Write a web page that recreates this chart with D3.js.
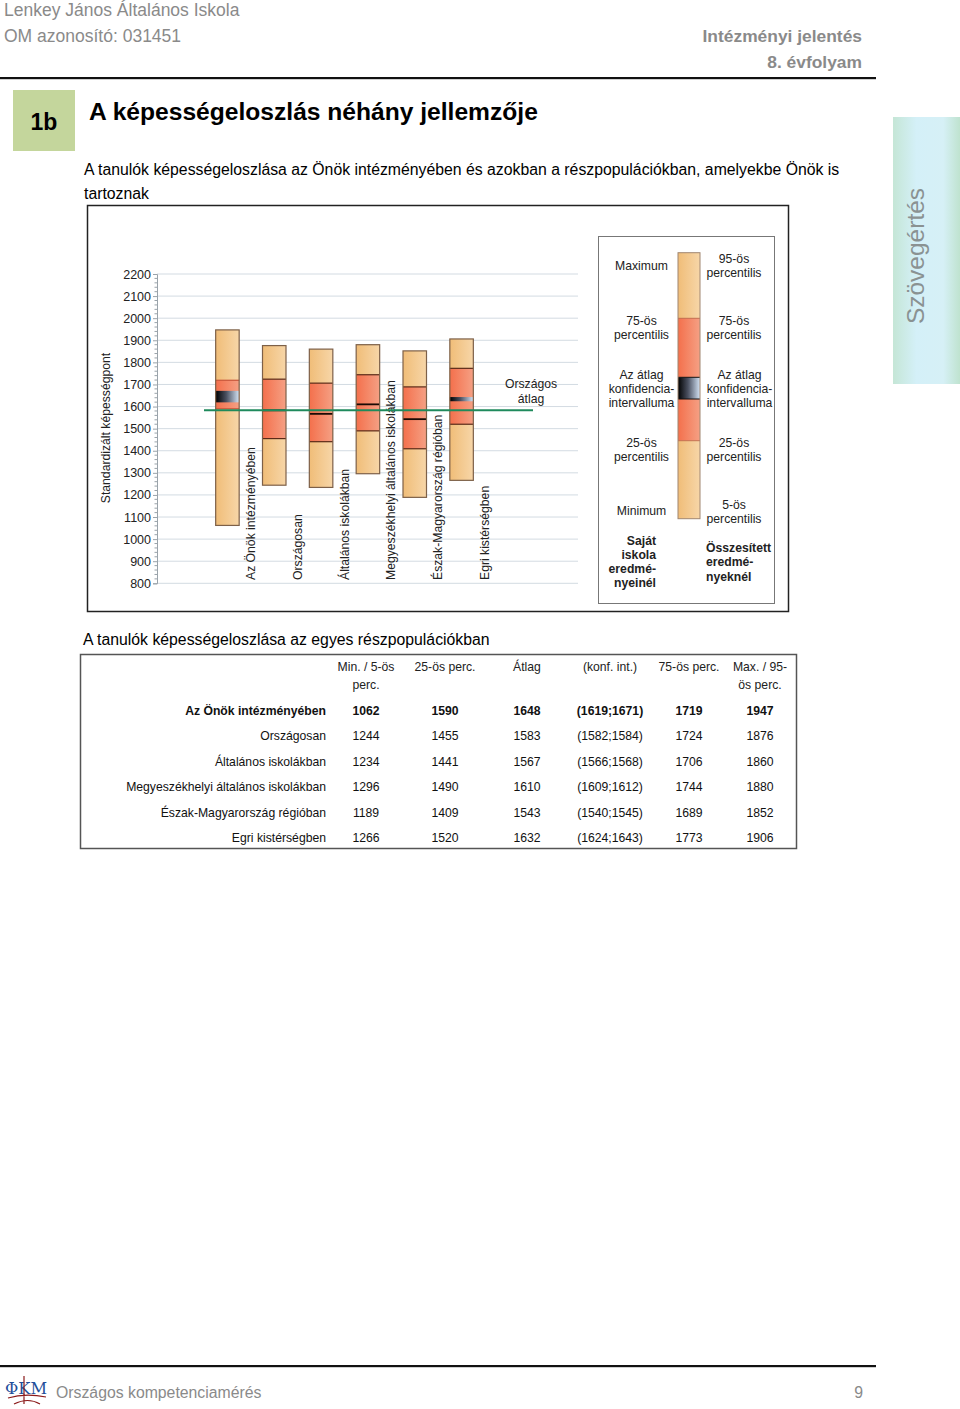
<!DOCTYPE html>
<html><head><meta charset="utf-8">
<script src="https://cdn.jsdelivr.net/npm/d3@7"></script>
<style>
html,body{margin:0;padding:0;background:#fff;}
svg{display:block;font-family:"Liberation Sans",Arial,sans-serif;}
</style></head>
<body>
<svg id="page" width="960" height="1409"></svg>
<script>
// ---- data ----
const categories = ["Az Önök intézményében","Országosan","Általános iskolákban","Megyeszékhelyi általános iskolákban","Észak-Magyarország régióban","Egri kistérségben"];
const min5   = [1062,1244,1234,1296,1189,1266];
const p25    = [1590,1455,1441,1490,1409,1520];
const mean   = [1648,1583,1567,1610,1543,1632];
const ciLow  = [1619,1582,1566,1609,1540,1624];
const ciHigh = [1671,1584,1568,1612,1545,1643];
const p75    = [1719,1724,1706,1744,1689,1773];
const max95  = [1947,1876,1860,1880,1852,1906];
const nationalMean = 1583;
const yTicks = [800,900,1000,1100,1200,1300,1400,1500,1600,1700,1800,1900,2000,2100,2200];
const tableHeaders = [["Min. / 5-ös","perc."],["25-ös perc."],["Átlag"],["(konf. int.)"],["75-ös perc."],["Max. / 95-","ös perc."]];

const svg = d3.select("#page");
const defs = svg.append("defs");
function lg(id, stops, x2=1, y2=0){
  const g = defs.append("linearGradient").attr("id",id).attr("x1",0).attr("y1",0).attr("x2",x2).attr("y2",y2);
  stops.forEach(s=>g.append("stop").attr("offset",s[0]).attr("stop-color",s[1]));
}
lg("gLight",[[0,"#f0bd78"],[1,"#f7d6a8"]]);
lg("gRed",[[0,"#f4704c"],[1,"#f5a084"]]);
lg("gCI",[[0,"#000000"],[0.45,"#4a5060"],[1,"#d4e4f6"]]);
lg("gTab",[[0,"#c5e6d6"],[0.35,"#d4f0f8"],[0.75,"#d6f0f6"],[1,"#bfe3cf"]]);

// ---- header ----
const gray = "#8a8a8a";
svg.append("text").attr("x",4).attr("y",16).attr("font-size",17.5).attr("fill",gray).text("Lenkey János Általános Iskola");
svg.append("text").attr("x",4).attr("y",42).attr("font-size",17.5).attr("fill",gray).text("OM azonosító: 031451");
svg.append("text").attr("x",862).attr("y",42).attr("font-size",17.4).attr("font-weight","bold").attr("fill",gray).attr("text-anchor","end").text("Intézményi jelentés");
svg.append("text").attr("x",862).attr("y",68).attr("font-size",17.4).attr("font-weight","bold").attr("fill",gray).attr("text-anchor","end").text("8. évfolyam");
svg.append("rect").attr("x",0).attr("y",77).attr("width",876).attr("height",2.2).attr("fill","#111");

svg.append("rect").attr("x",13).attr("y",90).attr("width",62).attr("height",61).attr("fill","#c4d69c");
svg.append("text").attr("x",44).attr("y",130).attr("font-size",23).attr("font-weight","bold").attr("text-anchor","middle").text("1b");
svg.append("text").attr("x",89).attr("y",120).attr("font-size",24.6).attr("font-weight","bold").text("A képességeloszlás néhány jellemzője");
svg.append("text").attr("x",84).attr("y",175).attr("font-size",15.8).text("A tanulók képességeloszlása az Önök intézményében és azokban a részpopulációkban, amelyekbe Önök is");
svg.append("text").attr("x",84).attr("y",199).attr("font-size",15.8).text("tartoznak");

// side tab
svg.append("rect").attr("x",893).attr("y",117).attr("width",67).attr("height",267).attr("fill","url(#gTab)");
svg.append("text").attr("transform","translate(924,256) rotate(-90)").attr("font-size",24.5).attr("fill","#8a9292").attr("text-anchor","middle").text("Szövegértés");

// ---- chart box ----
svg.append("rect").attr("x",87.5).attr("y",205.5).attr("width",701).attr("height",406).attr("fill","#fff").attr("stroke","#222").attr("stroke-width",1.5);

const y = d3.scaleLinear().domain([800,2200]).range([583.3,274]);
const x = d3.scalePoint().domain(categories).range([204,485]).padding(0.5);
const barW = 23.5;
const fs = 12.2;

// gridlines
svg.append("g").selectAll("line").data(yTicks).join("line")
  .attr("x1",157).attr("x2",578).attr("y1",d=>y(d)).attr("y2",d=>y(d))
  .attr("stroke","#d3dbe2").attr("stroke-width",1);

// axis
const axis = d3.axisLeft(y).tickValues(yTicks).tickSize(4).tickPadding(2).tickFormat(d3.format("d"));
const ag = svg.append("g").attr("transform","translate(157,0)").call(axis);
ag.select(".domain").attr("stroke","#9aa3aa");
ag.selectAll(".tick line").attr("stroke","#9aa3aa");
ag.selectAll(".tick text").attr("font-size",12.5).attr("fill","#222").attr("font-family","Liberation Sans, Arial, sans-serif");
const minor = d3.range(800,2200,20).filter(v=>v%100!==0);
svg.append("g").selectAll("line").data(minor).join("line")
  .attr("x1",154.5).attr("x2",157).attr("y1",d=>y(d)).attr("y2",d=>y(d)).attr("stroke","#9aa3aa");
svg.append("text").attr("transform","translate(110,428) rotate(-90)").attr("font-size",fs).attr("fill","#222").attr("text-anchor","middle").text("Standardizált képességpont");

// bars
const bars = svg.append("g");
categories.forEach((c,i)=>{
  const cx = x(c), x0 = cx - barW/2;
  bars.append("rect").attr("x",x0).attr("width",barW).attr("y",y(max95[i])).attr("height",y(min5[i])-y(max95[i])).attr("fill","url(#gLight)");
  bars.append("rect").attr("x",x0).attr("width",barW).attr("y",y(p75[i])).attr("height",y(p25[i])-y(p75[i])).attr("fill","url(#gRed)");
  const qc = i===0 ? "#c8553a" : "#5a2a18";
  [p25[i],p75[i]].forEach(v=>bars.append("line").attr("x1",x0).attr("x2",x0+barW).attr("y1",y(v)).attr("y2",y(v)).attr("stroke",qc).attr("stroke-width",1.2));
  const h = y(ciLow[i]) - y(ciHigh[i]);
  if (h > 3) {
    bars.append("rect").attr("x",x0).attr("width",barW).attr("y",y(ciHigh[i])).attr("height",h).attr("fill","url(#gCI)");
  } else {
    bars.append("line").attr("x1",x0).attr("x2",x0+barW).attr("y1",y(mean[i])).attr("y2",y(mean[i])).attr("stroke","#1a0a05").attr("stroke-width",1.8);
  }
  bars.append("rect").attr("x",x0).attr("width",barW).attr("y",y(max95[i])).attr("height",y(min5[i])-y(max95[i])).attr("fill","none").attr("stroke","#7d6048").attr("stroke-width",1.2);
  svg.append("text").attr("transform",`translate(${cx+27.5},580) rotate(-90)`).attr("font-size",fs).attr("fill","#222").text(c);
});

// national mean line
svg.append("line").attr("x1",204).attr("x2",533).attr("y1",y(nationalMean)).attr("y2",y(nationalMean)).attr("stroke","#1f8a5c").attr("stroke-width",2);
svg.append("text").attr("x",531).attr("y",388).attr("font-size",fs).attr("text-anchor","middle").attr("fill","#222").text("Országos");
svg.append("text").attr("x",531).attr("y",403).attr("font-size",fs).attr("text-anchor","middle").attr("fill","#222").text("átlag");

// ---- legend ----
svg.append("rect").attr("x",598.5).attr("y",236.5).attr("width",176).attr("height",367).attr("fill","#fff").attr("stroke","#777").attr("stroke-width",1);
const lx = 678, lw = 22;
const legSegs = [[252.7,318.3,"url(#gLight)"],[318.3,377.3,"url(#gRed)"],[377.3,399,"url(#gCI)"],[399,440.7,"url(#gRed)"],[440.7,518.7,"url(#gLight)"]];
legSegs.forEach(s=>svg.append("rect").attr("x",lx).attr("width",lw).attr("y",s[0]).attr("height",s[1]-s[0]).attr("fill",s[2]));
[318.3,440.7].forEach(v=>svg.append("line").attr("x1",lx).attr("x2",lx+lw).attr("y1",v).attr("y2",v).attr("stroke","#b85a3a").attr("stroke-width",0.8));
[377.3,399].forEach(v=>svg.append("line").attr("x1",lx).attr("x2",lx+lw).attr("y1",v).attr("y2",v).attr("stroke","#111").attr("stroke-width",1));
svg.append("rect").attr("x",lx).attr("width",lw).attr("y",252.7).attr("height",266).attr("fill","none").attr("stroke","#a08670").attr("stroke-width",1);

function lines(xp, ys, arr, anchor, bold){
  arr.forEach((t,k)=>svg.append("text").attr("x",xp).attr("y",ys[k]).attr("font-size",fs).attr("text-anchor",anchor)
    .attr("font-weight",bold?"bold":"normal").attr("fill","#222").text(t));
}
const leftCol = [[["Maximum"],[270]],[["75-ös","percentilis"],[325,339]],[["Az átlag","konfidencia-","intervalluma"],[379,393,407]],[["25-ös","percentilis"],[447,461]],[["Minimum"],[515]]];
leftCol.forEach(d=>lines(641.5,d[1],d[0],"middle",false));
lines(656,[545,559,573,587],["Saját","iskola","eredmé-","nyeinél"],"end",true);
const rightCol = [[["95-ös","percentilis"],[263,277],734],[["75-ös","percentilis"],[325,339],734],[["Az átlag","konfidencia-","intervalluma"],[379,393,407],739.5],[["25-ös","percentilis"],[447,461],734],[["5-ös","percentilis"],[509,523],734]];
rightCol.forEach(d=>lines(d[2],d[1],d[0],"middle",false));
lines(706,[552,566,581],["Összesített","eredmé-","nyeknél"],"start",true);

// ---- table ----
svg.append("text").attr("x",83).attr("y",645).attr("font-size",15.8).text("A tanulók képességeloszlása az egyes részpopulációkban");
svg.append("rect").attr("x",80.5).attr("y",654.5).attr("width",716).attr("height",194).attr("fill","#fff").attr("stroke","#555").attr("stroke-width",1.5);
const colX = [366,445,527,610,689,760];
tableHeaders.forEach((h,j)=>h.forEach((t,k)=>svg.append("text").attr("x",colX[j]).attr("y",671+k*18).attr("font-size",12.2).attr("text-anchor","middle").attr("fill","#222").text(t)));
const rowY = [715,740,766,791,817,842];
categories.forEach((c,i)=>{
  const fw = i===0 ? "bold" : "normal";
  const vals = [min5[i],p25[i],mean[i],`(${ciLow[i]};${ciHigh[i]})`,p75[i],max95[i]];
  svg.append("text").attr("x",326).attr("y",rowY[i]).attr("font-size",12.2).attr("text-anchor","end").attr("font-weight",fw).attr("fill","#111").text(c);
  vals.forEach((v,j)=>svg.append("text").attr("x",colX[j]).attr("y",rowY[i]).attr("font-size",12.2).attr("text-anchor","middle").attr("font-weight",fw).attr("fill","#111").text(v));
});

// ---- footer ----
svg.append("rect").attr("x",0).attr("y",1365).attr("width",876).attr("height",2.2).attr("fill","#111");
svg.append("text").attr("x",5).attr("y",1394).attr("font-size",16).attr("font-family","DejaVu Serif, serif").attr("fill","#1f4f9a").attr("textLength",42).attr("lengthAdjust","spacingAndGlyphs").text("ΦKM");
svg.append("path").attr("d","M8,1398 Q25,1393 46,1397 M14,1404 Q28,1397 40,1404 M24,1376 L24,1404").attr("stroke","#8b1a1a").attr("stroke-width",1.2).attr("fill","none");
svg.append("text").attr("x",56).attr("y",1398).attr("font-size",15.8).attr("fill",gray).text("Országos kompetenciamérés");
svg.append("text").attr("x",863).attr("y",1398).attr("font-size",15.8).attr("fill",gray).attr("text-anchor","end").text("9");
</script>
</body></html>
